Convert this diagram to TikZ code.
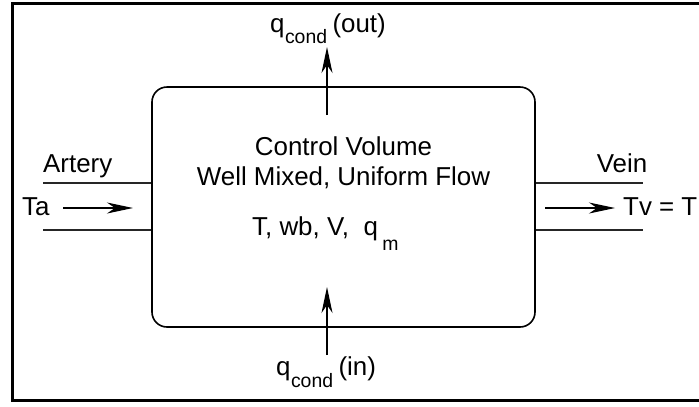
\documentclass[tikz,border=0pt]{standalone}
\usepackage{fontspec}
\setmainfont{Liberation Sans}
\usetikzlibrary{arrows.meta}
\begin{document}
\begin{tikzpicture}[x=1bp,y=-1bp,
  lbl/.style={font=\fontsize{26}{30}\selectfont, inner sep=0pt, anchor=base west},
  ctr/.style={font=\fontsize{26}{30}\selectfont, inner sep=0pt, anchor=base},
  sub/.style={font=\fontsize{19.5}{23}\selectfont, inner sep=0pt, anchor=base west},
  pipe/.style={line width=1.2bp, draw=black!85},
  flow/.style={line width=1.2bp, -{Stealth[length=26bp,width=11bp,inset=8bp]}},
]
\useasboundingbox (0,0) rectangle (699,406);
\begin{scope}
  \clip (0,0) rectangle (699,406);
  \draw[line width=3bp] (12.5,3) rectangle (730,400.5);
\end{scope}
% control volume
\node[draw, line width=1.6bp, rounded corners=15bp, minimum width=383bp,
      minimum height=240bp, inner sep=0pt] (cv) at (343.5,207) {};
\node[ctr] (t1) at (343.5,155) {Control Volume};
\node[ctr] (t2) at (343.5,185) {Well Mixed, Uniform Flow};
\node[lbl] (t3) at (252,235) {T, wb, V,\ \ q};
\node[sub] (t3m) at ([xshift=4bp,yshift=-15bp]t3.base east) {m};
% artery
\coordinate (a1) at (43,183);
\coordinate (a2) at (43,230);
\draw[pipe] (a1) -- (a1 -| cv.west);
\draw[pipe] (a2) -- (a2 -| cv.west);
\node[lbl] (art) at (43,172) {Artery};
\node[lbl] (ta) at (22,215) {Ta};
\coordinate (ta1) at (63,208);
\coordinate (ta2) at (133,208);
\draw[flow] (ta1) -- (ta2);
% vein
\coordinate (v1) at (643,183);
\coordinate (v2) at (643,230);
\draw[pipe] (v1 -| cv.east) -- (v1);
\draw[pipe] (v2 -| cv.east) -- (v2);
\node[ctr] (vein) at (622,172) {Vein};
\node[lbl] (tv) at (623,215) {Tv = T};
\coordinate (tv1) at (545,208);
\coordinate (tv2) at (615,208);
\draw[flow] (tv1) -- (tv2);
% conduction out
\node[lbl] (qo) at (270,32) {q};
\node[sub] (qoc) at ([yshift=-11bp]qo.base east) {cond};
\node[lbl] (qoo) at ([xshift=5bp,yshift=11bp]qoc.base east) {(out)};
\coordinate (o1) at (327,115);
\coordinate (o2) at (327,47);
\draw[flow] (o1) -- (o2);
% conduction in
\node[lbl] (qi) at (276,375) {q};
\node[sub] (qic) at ([yshift=-12bp]qi.base east) {cond};
\node[lbl] (qii) at ([xshift=5bp,yshift=12bp]qic.base east) {(in)};
\coordinate (i1) at (327,355);
\coordinate (i2) at (327,287);
\draw[flow] (i1) -- (i2);
\end{tikzpicture}
\end{document}
